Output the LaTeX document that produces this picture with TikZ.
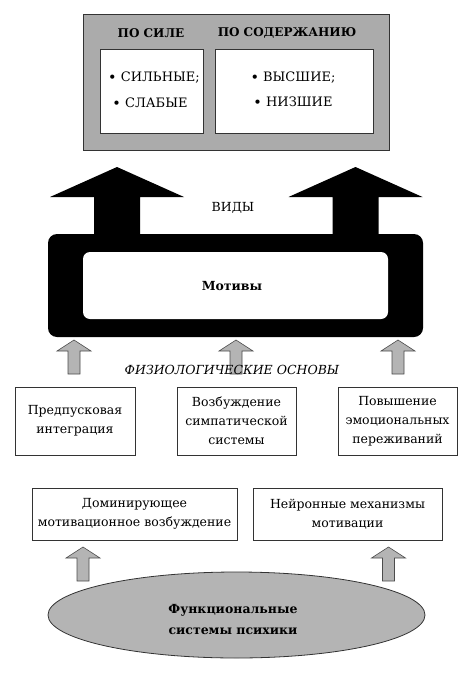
\documentclass[tikz,border=0pt]{standalone}
\usepackage{fontspec}
\setmainfont{DejaVu Serif}
\usetikzlibrary{shapes.geometric}
\definecolor{boxgray}{HTML}{ABABAB}
\definecolor{argray}{HTML}{B4B4B4}
\begin{document}
\begin{tikzpicture}[x=1pt,y=-1pt,
  txt/.style={font=\fontsize{12.5}{19}\selectfont, align=center, inner sep=0pt},
  plainbox/.style={draw=black!80, line width=0.8pt, fill=white, txt},
  hdr/.style={font=\fontsize{12}{14}\selectfont\bfseries, inner sep=0pt},
  bul/.style={font=\fontsize{13}{15}\selectfont, inner sep=0pt},
  garrow/.pic={\draw[fill=argray, draw=black!70, line width=0.6pt]
     (0,0) -- (17,11) -- (6,11) -- (6,34) -- (-6,34) -- (-6,11) -- (-17,11) -- cycle;},
  barrow/.pic={\fill[black]
     (0,0) -- (67,30) -- (23,30) -- (23,70) -- (-23,70) -- (-23,30) -- (-67,30) -- cycle;}
]
\useasboundingbox (0,0) rectangle (474,685);
% top gray panel
\node[draw=black!80, fill=boxgray, line width=0.8pt, minimum width=306pt, minimum height=136pt, inner sep=0pt] (panel) at (236,82) {};
\node[draw=black!80, fill=white, line width=0.8pt, minimum width=103pt, minimum height=84pt, inner sep=0pt] (bsila) at (151.5,91) {};
\node[draw=black!80, fill=white, line width=0.8pt, minimum width=158pt, minimum height=84pt, inner sep=0pt] (bsod) at (294,91) {};
\node[hdr] (hsila) at (151,33) {ПО СИЛЕ};
\node[hdr] (hsod) at (287,33) {ПО СОДЕРЖАНИЮ};
\node[bul] (s1) at (154,78) {{\Large\raisebox{-0.5pt}{•}} СИЛЬНЫЕ;};
\node[bul] (s2) at (150,103) {{\Large\raisebox{-0.5pt}{•}} СЛАБЫЕ};
\node[bul] (c1) at (293,78) {{\Large\raisebox{-0.5pt}{•}} ВЫСШИЕ;};
\node[bul] (c2) at (293,102) {{\Large\raisebox{-0.5pt}{•}} НИЗШИЕ};
% black arrows
\pic at (117,167) {barrow};
\pic at (355.5,167) {barrow};
\node[txt] (vidy) at (233,208) {ВИДЫ};
% black frame
\fill[black, rounded corners=9pt] (48,234) rectangle (423,337);
\node[fill=white, rounded corners=7pt, minimum width=305pt, minimum height=67pt, inner sep=0pt] (motivy) at (235.5,285.5) {};
\node[txt, font=\fontsize{12.5}{19}\selectfont\bfseries] (motlbl) at (232,286) {Мотивы};
% gray arrows upper
\pic at (74,340) {garrow};
\pic at (236,340) {garrow};
\pic at (398,340) {garrow};
\node[txt, font=\fontsize{12.5}{19}\selectfont\itshape] (fiz) at (232,370) {ФИЗИОЛОГИЧЕСКИЕ ОСНОВЫ};
% middle boxes
\node[plainbox, minimum width=120pt, minimum height=68pt] (pred) at (75,421) {Предпусковая\\интеграция};
\node[plainbox, minimum width=119pt, minimum height=68pt] (vozb) at (236.5,421) {Возбуждение\\симпатической\\системы};
\node[plainbox, minimum width=119pt, minimum height=68pt] (pov) at (397.5,421) {Повышение\\эмоциональных\\переживаний};
% lower boxes
\node[plainbox, minimum width=205pt, minimum height=52pt] (dom) at (134.5,514) {Доминирующее\\мотивационное возбуждение};
\node[plainbox, minimum width=189pt, minimum height=52pt] (neir) at (347.5,514) {Нейронные механизмы\\мотивации};
% gray arrows lower
\pic at (83,547) {garrow};
\pic at (388.5,547) {garrow};
% ellipse
\node[ellipse, draw=black!80, fill=argray, line width=0.8pt, minimum width=377pt, minimum height=86pt, inner sep=0pt] (func) at (236.5,615) {};
\node[txt, font=\fontsize{12.5}{21}\selectfont\bfseries] (funclbl) at (233,620) {Функциональные\\системы психики};
\end{tikzpicture}
\end{document}
